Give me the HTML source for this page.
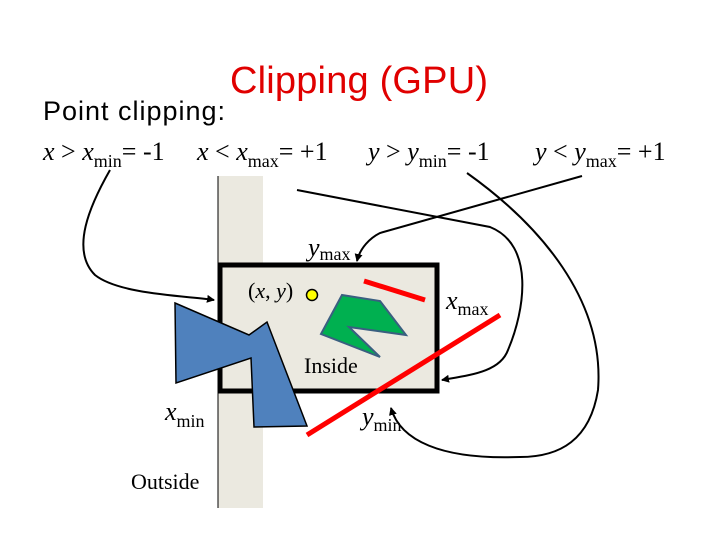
<!DOCTYPE html>
<html><head><style>
html,body{margin:0;padding:0;background:#fff;}
svg{display:block}
</style></head><body>
<svg width="720" height="540" viewBox="0 0 720 540" xmlns="http://www.w3.org/2000/svg">
<defs><marker id="a" markerWidth="8" markerHeight="8" refX="7" refY="4" orient="auto" markerUnits="userSpaceOnUse"><path d="M0,0 L8,4 L0,8 z" fill="#000"/></marker></defs>
<rect x="0" y="0" width="720" height="540" fill="#fff"/>
<text x="230" y="93" font-family="Liberation Sans, sans-serif" font-size="38" fill="#e00000" textLength="258">Clipping (GPU)</text>
<text x="43" y="120" font-family="Liberation Sans, sans-serif" font-size="27" fill="#000" textLength="182">Point clipping:</text>
<g font-family="Liberation Serif, serif" font-size="26" fill="#000">
<text x="43" y="160"><tspan font-style="italic">x</tspan> &gt; <tspan font-style="italic">x</tspan><tspan font-size="18" dy="7">min</tspan><tspan dy="-7">= -1</tspan></text>
<text x="197" y="160"><tspan font-style="italic">x</tspan> &lt; <tspan font-style="italic">x</tspan><tspan font-size="18" dy="7">max</tspan><tspan dy="-7">= +1</tspan></text>
<text x="368" y="160"><tspan font-style="italic">y</tspan> &gt; <tspan font-style="italic">y</tspan><tspan font-size="18" dy="7">min</tspan><tspan dy="-7">= -1</tspan></text>
<text x="535" y="160"><tspan font-style="italic">y</tspan> &lt; <tspan font-style="italic">y</tspan><tspan font-size="18" dy="7">max</tspan><tspan dy="-7">= +1</tspan></text>
</g>
<rect x="218" y="176" width="45" height="332" fill="#ebe9e0"/>
<line x1="218" y1="176" x2="218" y2="508" stroke="#000" stroke-width="1"/>
<rect x="220" y="265" width="217" height="126" fill="#ebe9e0" stroke="#000" stroke-width="5"/>
<polygon points="175,303 249,335 267,322 307,426 254,427 251,358 176,383" fill="#4f81bd" stroke="#000" stroke-width="1.5"/>
<polygon points="342,295 380,301 406,335 349,327 380,357 321,334" fill="#00b050" stroke="#3a5f80" stroke-width="2"/>
<circle cx="312" cy="295" r="5.5" fill="#ffff00" stroke="#000" stroke-width="1.5"/>
<line x1="364" y1="281" x2="425" y2="300" stroke="#ff0000" stroke-width="5"/>
<line x1="500" y1="315" x2="307" y2="435" stroke="#ff0000" stroke-width="5"/>
<g fill="none" stroke="#000" stroke-width="2">
<path d="M110,170 C90,205 70,250 95,275 C120,295 190,296 214,300" marker-end="url(#a)"/>
<path d="M297,190 L490,227 C535,245 525,310 508,350 C500,372 470,375 442,380" marker-end="url(#a)"/>
<path d="M467,173 C540,225 605,300 598,390 C590,440 560,457 520,457 C440,460 400,440 391,408" marker-end="url(#a)"/>
<path d="M582,176 L380,233 C370,238 360,248 357,261" marker-end="url(#a)"/>
</g>
<g font-family="Liberation Serif, serif" font-size="26" fill="#000">
<text x="308" y="256"><tspan font-style="italic">y</tspan><tspan font-size="18" dy="4">max</tspan></text>
<text x="248" y="298" font-size="22">(<tspan font-style="italic">x</tspan>, <tspan font-style="italic">y</tspan>)</text>
<text x="446" y="309"><tspan font-style="italic">x</tspan><tspan font-size="18" dy="6">max</tspan></text>
<text x="304" y="373" font-size="22">Inside</text>
<text x="165" y="420"><tspan font-style="italic">x</tspan><tspan font-size="18" dy="7">min</tspan></text>
<text x="362" y="425"><tspan font-style="italic">y</tspan><tspan font-size="18" dy="6">min</tspan></text>
<text x="131" y="489" font-size="22">Outside</text>
</g>
</svg>
</body></html>
